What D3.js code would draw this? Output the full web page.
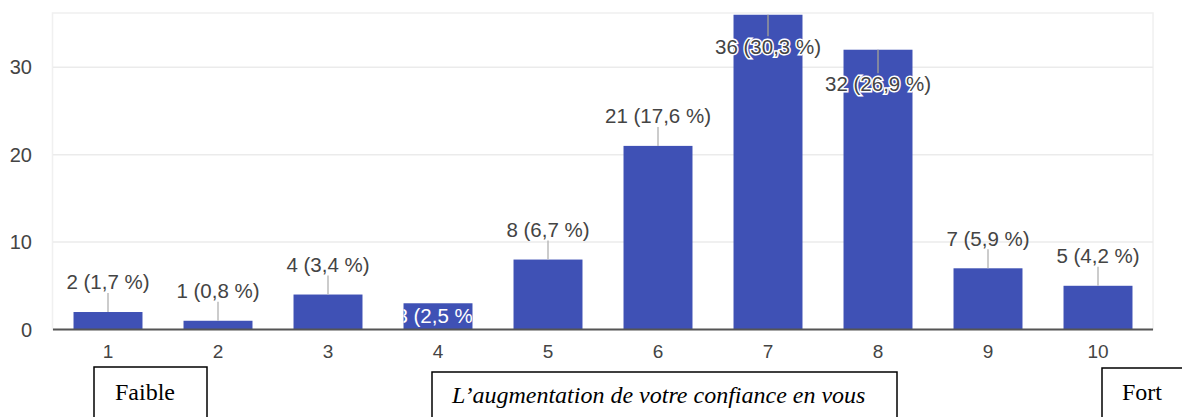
<!DOCTYPE html>
<html><head><meta charset="utf-8">
<script src="https://cdn.jsdelivr.net/npm/d3@7"></script>
<style>html,body{margin:0;padding:0;background:#fff;overflow:hidden}</style>
</head><body>
<svg id="c" width="1182" height="417"></svg>
<script>
const categories = ["1","2","3","4","5","6","7","8","9","10"];
const counts = [2,1,4,3,8,21,36,32,7,5];
const percents = ["1,7","0,8","3,4","2,5","6,7","17,6","30,3","26,9","5,9","4,2"];
const yTicks = [0,10,20,30];
const scaleLabels = ["Faible","L\u2019augmentation de votre confiance en vous","Fort"];

(function(){
const svg = d3.select("#c");
const pL = 53, pR = 1153, pT = 13, pB = 329.5;
const x = d3.scaleBand().domain(categories).range([pL,pR]).paddingInner(0.373).paddingOuter(0.1865);
const y = d3.scaleLinear().domain([0,36.2]).range([pB,pT]);
const font = "Arial, 'Liberation Sans', sans-serif";

// frame
svg.append("rect").attr("x",pL-0.5).attr("y",pT).attr("width",pR-pL+0.5).attr("height",pB-pT)
  .attr("fill","none").attr("stroke","#f0f0f0").attr("stroke-width",1.5);
// grid
svg.append("g").selectAll("line").data(yTicks.filter(d=>d>0)).join("line")
  .attr("x1",pL).attr("x2",pR).attr("y1",d=>y(d)).attr("y2",d=>y(d))
  .attr("stroke","#ebebeb").attr("stroke-width",1.5);
// y labels
svg.append("g").selectAll("text").data(yTicks).join("text")
  .attr("x",32).attr("y",d=>y(d)).attr("dy","0.36em").attr("text-anchor","end")
  .attr("font-family",font).attr("font-size",20).attr("fill","#444")
  .text(d=>d);

const data = categories.map((c,i)=>({c, v:counts[i], p:percents[i], i}));
const bw = x.bandwidth();
// bars
svg.append("g").selectAll("rect").data(data).join("rect")
  .attr("x",d=>x(d.c)).attr("y",d=>y(d.v)).attr("width",bw).attr("height",d=>pB-y(d.v))
  .attr("fill","#3f51b5");

const defs = svg.append("defs");
data.forEach(d=>{
  defs.append("clipPath").attr("id","clip"+d.i).append("rect")
    .attr("x",x(d.c)).attr("y",y(d.v)).attr("width",bw).attr("height",pB-y(d.v));
});

const fs = 20.5;
const lab = svg.append("g");
data.forEach(d=>{
  const cx = x(d.c)+bw/2;
  const txt = d.v+" ("+d.p+" %)";
  if (d.c==="4") {
    lab.append("text").attr("x",cx).attr("y",316).attr("dy","0.36em").attr("text-anchor","middle")
      .attr("font-family",font).attr("font-size",fs).attr("fill","#fff")
      .attr("clip-path","url(#clip"+d.i+")").text(txt);
  } else if (d.c==="7" || d.c==="8") {
    const ly = y(d.v) + (d.c==="7"?31.5:33.5);
    lab.append("line").attr("x1",cx).attr("x2",cx).attr("y1",y(d.v)).attr("y2",ly-10)
      .attr("stroke","#999").attr("stroke-width",1.5);
    lab.append("text").attr("x",cx).attr("y",ly).attr("dy","0.36em").attr("text-anchor","middle")
      .attr("font-family",font).attr("font-size",fs).attr("fill","#444")
      .attr("stroke","#fff").attr("stroke-width",3).attr("paint-order","stroke").text(txt);
  } else {
    const ly = y(d.v) - 30;
    lab.append("line").attr("x1",cx).attr("x2",cx).attr("y1",y(d.v)).attr("y2",ly+11)
      .attr("stroke","#bbb").attr("stroke-width",1.5);
    lab.append("text").attr("x",cx).attr("y",ly).attr("dy","0.36em").attr("text-anchor","middle")
      .attr("font-family",font).attr("font-size",fs).attr("fill","#444").text(txt);
  }
});

// baseline
svg.append("line").attr("x1",pL).attr("x2",pR).attr("y1",pB).attr("y2",pB)
  .attr("stroke","#555").attr("stroke-width",2);

// x axis labels
svg.append("g").selectAll("text").data(categories).join("text")
  .attr("x",d=>x(d)+bw/2).attr("y",351).attr("dy","0.36em").attr("text-anchor","middle")
  .attr("font-family",font).attr("font-size",19).attr("fill","#444").text(d=>d);

// bottom boxes
const boxes = [
  {t:scaleLabels[0], x:94, y:367, w:113, tx:115, by:400, italic:false},
  {t:scaleLabels[1], x:432, y:372, w:465, tx:452, by:403, italic:true},
  {t:scaleLabels[2], x:1102, y:368, w:90, tx:1122, by:400, italic:false}
];
const bg = svg.append("g");
boxes.forEach(b=>{
  bg.append("rect").attr("x",b.x).attr("y",b.y).attr("width",b.w).attr("height",60)
    .attr("fill","#fff").attr("stroke","#000").attr("stroke-width",1.5);
  bg.append("text").attr("x",b.tx).attr("y",b.by)
    .attr("font-family","'Liberation Serif','Times New Roman',serif").attr("font-size",24)
    .attr("font-style",b.italic?"italic":"normal").attr("fill","#000").text(b.t);
});
})();
</script>
</body></html>
